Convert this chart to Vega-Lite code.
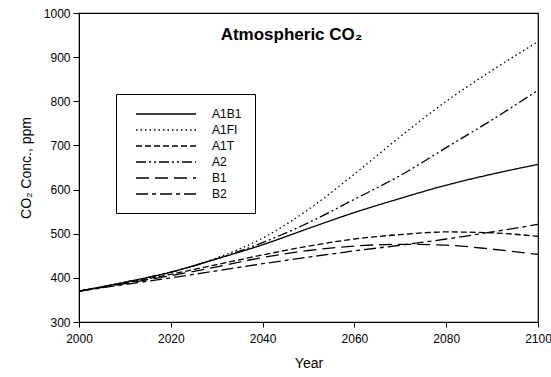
{
  "$schema": "https://vega.github.io/schema/vega-lite/v6.json",
  "width": 459,
  "height": 309,
  "autosize": "none",
  "padding": {"left": 79, "top": 13, "right": 13, "bottom": 55},
  "config": {
    "font": "Liberation Sans",
    "view": {"stroke": "black", "strokeWidth": 1.2},
    "axis": {"domainColor": "black", "tickColor": "black", "labelColor": "black", "titleColor": "black", "grid": false, "labelFontSize": 12, "titleFontSize": 14, "titleFontWeight": "normal", "labelFont": "Liberation Sans", "titleFont": "Liberation Sans"}
  },
  "title": {
    "text": "Atmospheric CO₂",
    "orient": "top",
    "anchor": "middle",
    "offset": -37,
    "dx": -17,
    "fontSize": 17,
    "fontWeight": "bold",
    "font": "Liberation Sans",
    "color": "black"
  },
  "data": {
    "values": [
      {"year": 2000, "scenario": "A1B1", "co2": 370},
      {"year": 2010, "scenario": "A1B1", "co2": 390},
      {"year": 2020, "scenario": "A1B1", "co2": 413},
      {"year": 2030, "scenario": "A1B1", "co2": 443},
      {"year": 2040, "scenario": "A1B1", "co2": 475},
      {"year": 2050, "scenario": "A1B1", "co2": 512},
      {"year": 2060, "scenario": "A1B1", "co2": 548},
      {"year": 2070, "scenario": "A1B1", "co2": 580},
      {"year": 2080, "scenario": "A1B1", "co2": 610},
      {"year": 2090, "scenario": "A1B1", "co2": 635},
      {"year": 2100, "scenario": "A1B1", "co2": 657},
      {"year": 2000, "scenario": "A1FI", "co2": 370},
      {"year": 2010, "scenario": "A1FI", "co2": 390},
      {"year": 2020, "scenario": "A1FI", "co2": 413},
      {"year": 2030, "scenario": "A1FI", "co2": 445},
      {"year": 2040, "scenario": "A1FI", "co2": 490},
      {"year": 2050, "scenario": "A1FI", "co2": 555},
      {"year": 2060, "scenario": "A1FI", "co2": 635},
      {"year": 2070, "scenario": "A1FI", "co2": 720},
      {"year": 2080, "scenario": "A1FI", "co2": 800},
      {"year": 2090, "scenario": "A1FI", "co2": 870},
      {"year": 2100, "scenario": "A1FI", "co2": 935},
      {"year": 2000, "scenario": "A1T", "co2": 370},
      {"year": 2010, "scenario": "A1T", "co2": 388},
      {"year": 2020, "scenario": "A1T", "co2": 408},
      {"year": 2030, "scenario": "A1T", "co2": 430},
      {"year": 2040, "scenario": "A1T", "co2": 452},
      {"year": 2050, "scenario": "A1T", "co2": 472},
      {"year": 2060, "scenario": "A1T", "co2": 488},
      {"year": 2070, "scenario": "A1T", "co2": 498},
      {"year": 2080, "scenario": "A1T", "co2": 504},
      {"year": 2090, "scenario": "A1T", "co2": 502},
      {"year": 2100, "scenario": "A1T", "co2": 494},
      {"year": 2000, "scenario": "A2", "co2": 370},
      {"year": 2010, "scenario": "A2", "co2": 390},
      {"year": 2020, "scenario": "A2", "co2": 413},
      {"year": 2030, "scenario": "A2", "co2": 443},
      {"year": 2040, "scenario": "A2", "co2": 480},
      {"year": 2050, "scenario": "A2", "co2": 525},
      {"year": 2060, "scenario": "A2", "co2": 578},
      {"year": 2070, "scenario": "A2", "co2": 632},
      {"year": 2080, "scenario": "A2", "co2": 695},
      {"year": 2090, "scenario": "A2", "co2": 758},
      {"year": 2100, "scenario": "A2", "co2": 825},
      {"year": 2000, "scenario": "B1", "co2": 370},
      {"year": 2010, "scenario": "B1", "co2": 387},
      {"year": 2020, "scenario": "B1", "co2": 405},
      {"year": 2030, "scenario": "B1", "co2": 425},
      {"year": 2040, "scenario": "B1", "co2": 446},
      {"year": 2050, "scenario": "B1", "co2": 462},
      {"year": 2060, "scenario": "B1", "co2": 472},
      {"year": 2070, "scenario": "B1", "co2": 476},
      {"year": 2080, "scenario": "B1", "co2": 474},
      {"year": 2090, "scenario": "B1", "co2": 465},
      {"year": 2100, "scenario": "B1", "co2": 453},
      {"year": 2000, "scenario": "B2", "co2": 370},
      {"year": 2010, "scenario": "B2", "co2": 385},
      {"year": 2020, "scenario": "B2", "co2": 400},
      {"year": 2030, "scenario": "B2", "co2": 416},
      {"year": 2040, "scenario": "B2", "co2": 432},
      {"year": 2050, "scenario": "B2", "co2": 447},
      {"year": 2060, "scenario": "B2", "co2": 461},
      {"year": 2070, "scenario": "B2", "co2": 474},
      {"year": 2080, "scenario": "B2", "co2": 488},
      {"year": 2090, "scenario": "B2", "co2": 504},
      {"year": 2100, "scenario": "B2", "co2": 521}
    ]
  },
  "mark": {"type": "line", "interpolate": "monotone", "color": "black", "strokeWidth": 1.3, "clip": true},
  "encoding": {
    "x": {
      "field": "year", "type": "quantitative",
      "scale": {"domain": [2000, 2100], "nice": false, "zero": false},
      "axis": {"title": "Year", "values": [2000, 2020, 2040, 2060, 2080, 2100], "format": "d", "tickSize": 5, "labelPadding": 6, "titlePadding": 12, "labelFlush": false}
    },
    "y": {
      "field": "co2", "type": "quantitative",
      "scale": {"domain": [300, 1000], "nice": false, "zero": false},
      "axis": {"title": "CO₂ Conc., ppm", "values": [300, 400, 500, 600, 700, 800, 900, 1000], "format": "d", "tickSize": 6, "labelPadding": 3, "titlePadding": 10}
    },
    "strokeDash": {
      "field": "scenario", "type": "nominal",
      "scale": {
        "domain": ["A1B1", "A1FI", "A1T", "A2", "B1", "B2"],
        "range": [[1, 0], [1.5, 3], [6, 3], [10, 3, 2, 3, 2, 3], [13, 6], [12, 4, 4, 4]]
      },
      "legend": {
        "title": null,
        "orient": "none",
        "legendX": 37,
        "legendY": 81,
        "symbolType": "M0,0H10",
        "symbolSize": 144,
        "symbolStrokeColor": "black",
        "symbolStrokeWidth": 1.3,
        "labelFontSize": 12,
        "labelColor": "black",
        "labelOffset": 69,
        "rowPadding": 3,
        "padding": 13,
        "strokeColor": "black",
        "fillColor": "white"
      }
    }
  }
}
